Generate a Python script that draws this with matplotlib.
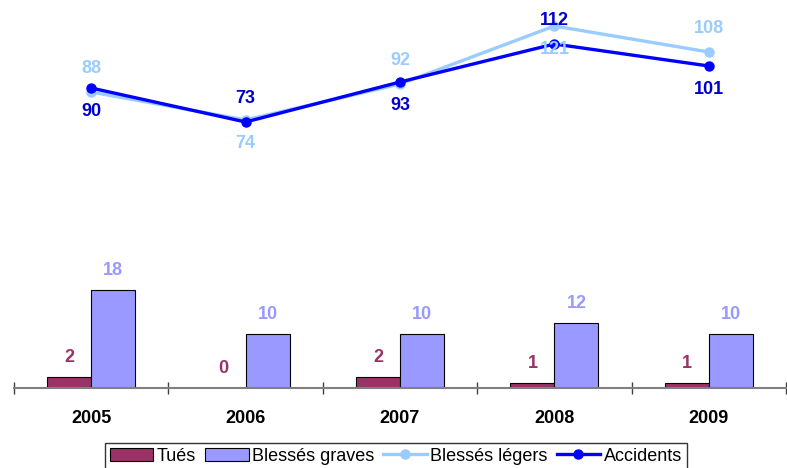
import matplotlib.pyplot as plt
import numpy as np

# Data
years = ['2005', '2006', '2007', '2008', '2009']
tues = [2, 0, 2, 1, 1]
blesses_graves = [18, 10, 10, 12, 10]
blesses_legers = [88, 74, 92, 121, 108]
accidents = [90, 73, 93, 112, 101]

# label placement for the line series (as in the original chart)
legers_above = [True, False, True, False, True]

plt.rcParams['font.family'] = ['Liberation Sans', 'DejaVu Sans']

c_tues = '#993366'
c_graves = '#9999FF'
c_legers = '#99CCFF'
c_acc = '#0000FF'

fig = plt.figure(figsize=(7.87, 4.68), dpi=100)
ax = fig.add_axes([14 / 787, 1 - 388 / 468, 772 / 787, 378 / 468])
x = np.arange(len(years))
w = 0.285

b1 = ax.bar(x - w / 2, tues, w, color=c_tues, edgecolor='black', linewidth=0.8,
            label='Tués', zorder=2)
b2 = ax.bar(x + w / 2, blesses_graves, w, color=c_graves, edgecolor='black',
            linewidth=0.8, label='Blessés graves', zorder=2)
ax.set_ylim(0, 69.5)
ax.set_xlim(-0.5, len(years) - 0.5)

for xi, v in zip(x, tues):
    ax.annotate(str(v), (xi - w / 2, v), xytext=(0, 14), textcoords='offset points',
                ha='center', va='center', color=c_tues, fontsize=13, fontweight='bold')
for xi, v in zip(x, blesses_graves):
    ax.annotate(str(v), (xi + w / 2, v), xytext=(0, 14), textcoords='offset points',
                ha='center', va='center', color=c_graves, fontsize=13, fontweight='bold')

# x axis: category labels, ticks at boundaries
ax.set_xticks(x)
ax.set_xticklabels(years, fontsize=13, fontweight='bold')
ax.set_xticks(np.arange(-0.5, len(years)), minor=True)
ax.tick_params(axis='x', which='major', length=0, pad=16)
ax.tick_params(axis='x', which='minor', direction='inout', length=9, width=1,
               color='#404040')
ax.set_yticks([])
for s in ['top', 'right', 'left']:
    ax.spines[s].set_visible(False)
ax.spines['bottom'].set_color('#808080')
ax.spines['bottom'].set_linewidth(1.5)

# lines on a secondary scale
ax2 = ax.twinx()
ax2.set_ylim(-60, 129)
l1, = ax2.plot(x, blesses_legers, color=c_legers, lw=2.4, marker='o', ms=6.5,
               label='Blessés légers', zorder=3)
l2, = ax2.plot(x, accidents, color=c_acc, lw=2.4, marker='o', ms=6.5,
               label='Accidents', zorder=4)
ax2.set_yticks([])
for s in ax2.spines.values():
    s.set_visible(False)

for xi, vl, va_, up in zip(x, blesses_legers, accidents, legers_above):
    dl = 17 if up else -17
    ax2.annotate(str(vl), (xi, vl), xytext=(0, dl), textcoords='offset points',
                 ha='center', va='center', color=c_legers, fontsize=13,
                 fontweight='bold', zorder=5)
    ax2.annotate(str(va_), (xi, va_), xytext=(0, -dl), textcoords='offset points',
                 ha='center', va='center', color='#0000CC', fontsize=13,
                 fontweight='bold', zorder=5)

leg = fig.legend(handles=[b1, b2, l1, l2], loc='upper center',
                 bbox_to_anchor=(396 / 787, 1 - 443 / 468), ncol=4, fontsize=13,
                 frameon=True, fancybox=False, edgecolor='black', handlelength=2.4,
                 handleheight=0.8, handletextpad=0.2, columnspacing=0.5,
                 borderpad=0.25, borderaxespad=0)
leg.get_frame().set_linewidth(1.0)

fig.savefig('out.png', dpi=100)
